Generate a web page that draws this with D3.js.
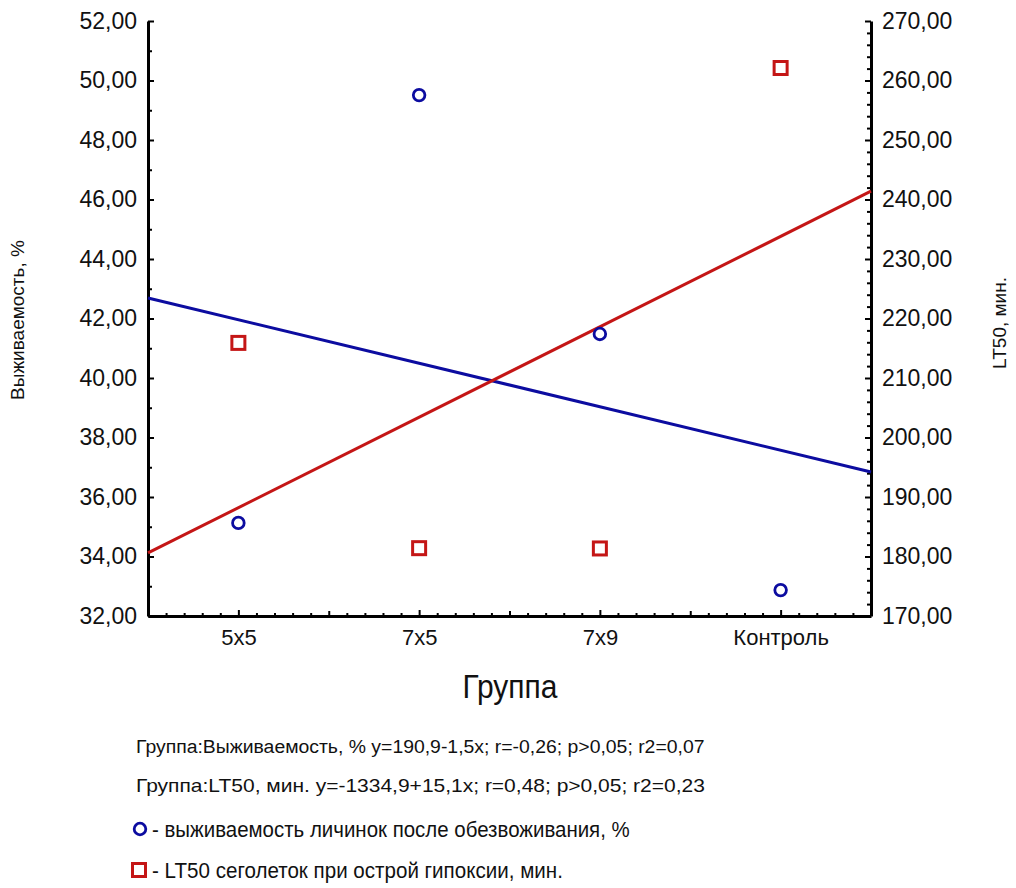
<!DOCTYPE html>
<html><head><meta charset="utf-8">
<script src="https://cdn.jsdelivr.net/npm/d3@7"></script>
<style>
body{margin:0;background:#fff;}
svg{display:block;}
</style></head><body>
<svg id="chart" width="1016" height="888"></svg>
<script>
// ---- data ----
const categories = ["5x5", "7x5", "7x9", "Контроль"];
const categoryPos = [1, 2, 3, 4];
const survival = [35.13, 49.51, 41.48, 32.87];      // left axis, %
const lt50 = [215.9, 181.4, 181.35, 262.1];          // right axis, min
const survivalFit = [[0.5, 42.69], [4.5, 36.84]];    // fitted line endpoints
const lt50Fit = [[0.5, 180.6], [4.5, 241.4]];
const leftTicks = [32, 34, 36, 38, 40, 42, 44, 46, 48, 50, 52];
const rightTicks = [170, 180, 190, 200, 210, 220, 230, 240, 250, 260, 270];
const leftTitle = "Выживаемость, %";
const rightTitle = "LT50, мин.";
const xTitle = "Группа";
const notes = [
  "Группа:Выживаемость, % y=190,9-1,5x; r=-0,26; p>0,05; r2=0,07",
  "Группа:LT50, мин. y=-1334,9+15,1x; r=0,48; p>0,05; r2=0,23"
];
const legendLabels = [
  "- выживаемость личинок после обезвоживания, %",
  "- LT50 сеголеток при острой гипоксии, мин."
];

const BLUE = "#0c0ca0", RED = "#c41616";
const svg = d3.select("#chart");
const L = 148, R = 871, T = 21, B = 616;
const x = d3.scaleLinear().domain([0.5, 4.5]).range([L, R]);
const yL = d3.scaleLinear().domain([32, 52]).range([B, T]);
const yR = d3.scaleLinear().domain([170, 270]).range([B, T]);
const fmt = v => d3.format(".2f")(v).replace(".", ",");
const tickFont = "'Liberation Sans', Arial, sans-serif";

function style(g, size) {
  g.select(".domain").attr("stroke", "#000").attr("stroke-width", 3);
  g.selectAll(".tick line").attr("stroke", "#000").attr("stroke-width", 2);
  g.selectAll("text").attr("font-family", tickFont).attr("font-size", size).attr("fill", "#111");
}
function minor(g) {
  g.select(".domain").remove();
  g.selectAll("line").attr("stroke", "#000").attr("stroke-width", 2);
}
// condensed text: draw at size, then squeeze horizontally to target width
function narrowText(str, x0, y0, size, width, anchorMiddle) {
  const t = svg.append("text").attr("font-family", tickFont).attr("font-size", size)
    .attr("fill", "#111").attr("x", 0).attr("y", 0).text(str);
  const w = t.node().getComputedTextLength();
  const s = width / w;
  const tx = anchorMiddle ? x0 - width / 2 : x0;
  t.attr("transform", `translate(${tx},${y0}) scale(${s},1)`);
  return t;
}

// minor ticks
svg.append("g").attr("transform", `translate(${L},0)`)
  .call(d3.axisLeft(yL).tickValues(d3.range(33, 52, 2)).tickSize(-4).tickFormat("")).call(minor);
svg.append("g").attr("transform", `translate(${R},0)`)
  .call(d3.axisRight(yR).tickValues(d3.range(172, 270, 2).filter(v => v % 10 !== 0)).tickSize(-4).tickFormat("")).call(minor);
svg.append("g").attr("transform", `translate(0,${B})`)
  .call(d3.axisBottom(x).tickValues(d3.range(6, 45).map(v => v / 10).filter(v => Math.abs(v * 2 - Math.round(v * 2)) > 1e-6)).tickSize(-3).tickFormat("")).call(minor);
svg.append("g").attr("transform", `translate(0,${B})`)
  .call(d3.axisBottom(x).tickValues([1.5, 2.5, 3.5]).tickSize(-5).tickFormat("")).call(minor);

// major axes
svg.append("g").attr("transform", `translate(${L},0)`)
  .call(d3.axisLeft(yL).tickValues(leftTicks).tickSize(-6).tickSizeOuter(0).tickPadding(11).tickFormat(fmt))
  .call(g => style(g, 23));
svg.append("g").attr("transform", `translate(${R},0)`)
  .call(d3.axisRight(yR).tickValues(rightTicks).tickSize(-6).tickSizeOuter(0).tickPadding(11).tickFormat(fmt))
  .call(g => style(g, 23));
svg.append("g").attr("transform", `translate(0,${B})`)
  .call(d3.axisBottom(x).tickValues(categoryPos).tickSize(-6).tickSizeOuter(0).tickPadding(13).tickFormat((d, i) => categories[i]))
  .call(g => style(g, 22));

// titles
svg.append("text").attr("transform", `translate(24,320) rotate(-90)`).attr("text-anchor", "middle")
  .attr("font-family", tickFont).attr("font-size", 19).attr("fill", "#111").text(leftTitle);
svg.append("text").attr("transform", `translate(1006,323) rotate(-90)`).attr("text-anchor", "middle")
  .attr("font-family", tickFont).attr("font-size", 19).attr("fill", "#111").text(rightTitle);
narrowText(xTitle, 510, 698, 33, 95, true);

// fit lines
const lineL = d3.line().x(d => x(d[0])).y(d => yL(d[1]));
const lineR = d3.line().x(d => x(d[0])).y(d => yR(d[1]));
svg.append("path").attr("d", lineL(survivalFit)).attr("stroke", BLUE).attr("stroke-width", 3).attr("fill", "none");
svg.append("path").attr("d", lineR(lt50Fit)).attr("stroke", RED).attr("stroke-width", 3).attr("fill", "none");

// points
svg.selectAll("circle.pt").data(survival).join("circle").attr("class", "pt")
  .attr("cx", (d, i) => x(categoryPos[i])).attr("cy", d => yL(d)).attr("r", 5.8)
  .attr("fill", "#fff").attr("stroke", BLUE).attr("stroke-width", 2.8);
svg.selectAll("rect.pt").data(lt50).join("rect").attr("class", "pt")
  .attr("x", (d, i) => x(categoryPos[i]) - 6.5).attr("y", d => yR(d) - 6.5).attr("width", 13).attr("height", 13)
  .attr("fill", "#fff").attr("stroke", RED).attr("stroke-width", 3);

// notes
const noteY = [753, 792];
notes.forEach((t, i) => narrowText(t, 136, noteY[i], 19, 569, false));

// legend
const legY = [829, 870];
const legW = [478, 411];
svg.append("circle").attr("cx", 140).attr("cy", legY[0]).attr("r", 5.8).attr("fill", "#fff").attr("stroke", BLUE).attr("stroke-width", 2.8);
svg.append("rect").attr("x", 132.5).attr("y", legY[1] - 6.5).attr("width", 13).attr("height", 13).attr("fill", "#fff").attr("stroke", RED).attr("stroke-width", 3);
legendLabels.forEach((t, i) => narrowText(t, 152, legY[i] + 8, 22, legW[i], false));
</script>
</body></html>
